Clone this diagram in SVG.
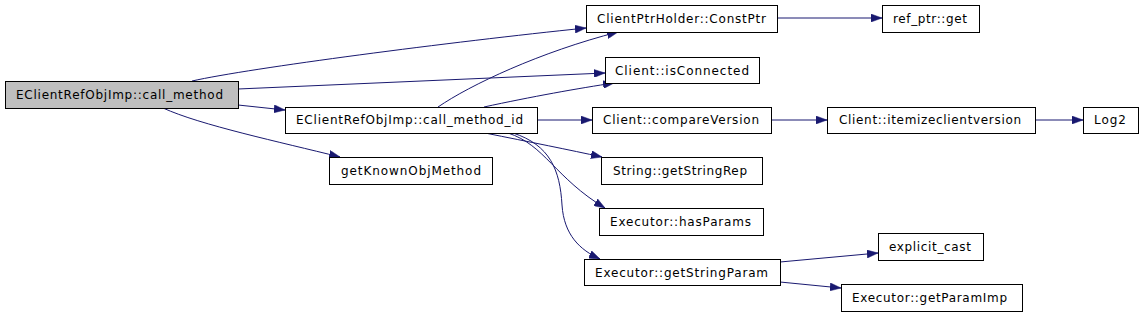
<svg xmlns="http://www.w3.org/2000/svg" width="1144" height="316" viewBox="0 0 1144 316">
<style>
.n rect{fill:#ffffff;stroke:#000000;stroke-width:1}
.n.root rect{fill:#bfbfbf}
.n text{font-family:"DejaVu Sans","Liberation Sans",sans-serif;font-size:12px;fill:#000000}
.e path{fill:none;stroke:#191970;stroke-width:1;marker-end:url(#ah)}
</style>
<defs>
<marker id="ah" markerWidth="11" markerHeight="8" refX="11" refY="4" orient="auto" markerUnits="userSpaceOnUse">
<path d="M0,0 L11,4 L0,8 z" fill="#191970" stroke="#191970" stroke-width="0.5"/>
</marker>
</defs>
<rect width="1144" height="316" fill="#ffffff"/>
<g id="edges" class="e">
<path d="M192,81 C250,68 450,42 586,28"/>
<path d="M238,89 L605,73"/>
<path d="M238,105 L285,110"/>
<path d="M163,108 C200,125 280,142 340,157"/>
<path d="M438,107 C470,85 540,52 618,32"/>
<path d="M484,107 C530,97 580,88 614,83"/>
<path d="M537,120 L592,120"/>
<path d="M485,133 C530,142 570,150 602,157"/>
<path d="M508,133 C545,145 555,178 605,208"/>
<path d="M513,133 C550,145 560,170 562,205 C564,235 580,250 600,259"/>
<path d="M771,120 L827,120"/>
<path d="M1035,120 L1083,120"/>
<path d="M777,18 L882,18"/>
<path d="M780,262 L878,253"/>
<path d="M780,282 L841,288"/>
</g>
<g id="call_method" class="n root"><rect x="5.5" y="81.5" width="233" height="27"/><text x="16" y="99" textLength="207" lengthAdjust="spacing">EClientRefObjImp::call_method</text></g>
<g id="call_method_id" class="n"><rect x="285.5" y="107.5" width="252" height="26"/><text x="296" y="124" textLength="227" lengthAdjust="spacing">EClientRefObjImp::call_method_id</text></g>
<g id="getKnownObjMethod" class="n"><rect x="329.5" y="157.5" width="163" height="27"/><text x="341" y="175" textLength="140" lengthAdjust="spacing">getKnownObjMethod</text></g>
<g id="ConstPtr" class="n"><rect x="586.5" y="5.5" width="191" height="27"/><text x="597" y="23" textLength="169" lengthAdjust="spacing">ClientPtrHolder::ConstPtr</text></g>
<g id="isConnected" class="n"><rect x="605.5" y="57.5" width="154" height="26"/><text x="615" y="74.5" textLength="134" lengthAdjust="spacing">Client::isConnected</text></g>
<g id="compareVersion" class="n"><rect x="592.5" y="107.5" width="179" height="26"/><text x="603" y="124" textLength="156" lengthAdjust="spacing">Client::compareVersion</text></g>
<g id="getStringRep" class="n"><rect x="601.5" y="157.5" width="161" height="27"/><text x="613" y="175" textLength="134" lengthAdjust="spacing">String::getStringRep</text></g>
<g id="hasParams" class="n"><rect x="599.5" y="208.5" width="164" height="27"/><text x="610" y="226" textLength="141" lengthAdjust="spacing">Executor::hasParams</text></g>
<g id="getStringParam" class="n"><rect x="584.5" y="259.5" width="196" height="26"/><text x="595" y="276.5" textLength="173" lengthAdjust="spacing">Executor::getStringParam</text></g>
<g id="itemizeclientversion" class="n"><rect x="827.5" y="107.5" width="208" height="26"/><text x="839" y="124" textLength="182" lengthAdjust="spacing">Client::itemizeclientversion</text></g>
<g id="Log2" class="n"><rect x="1083.5" y="107.5" width="55" height="26"/><text x="1094" y="124" textLength="32" lengthAdjust="spacing">Log2</text></g>
<g id="ref_ptr_get" class="n"><rect x="882.5" y="5.5" width="97" height="27"/><text x="893" y="23" textLength="74" lengthAdjust="spacing">ref_ptr::get</text></g>
<g id="explicit_cast" class="n"><rect x="878.5" y="233.5" width="105" height="27"/><text x="889" y="251" textLength="82" lengthAdjust="spacing">explicit_cast</text></g>
<g id="getParamImp" class="n"><rect x="841.5" y="284.5" width="181" height="27"/><text x="852" y="302" textLength="155" lengthAdjust="spacing">Executor::getParamImp</text></g>
</svg>
